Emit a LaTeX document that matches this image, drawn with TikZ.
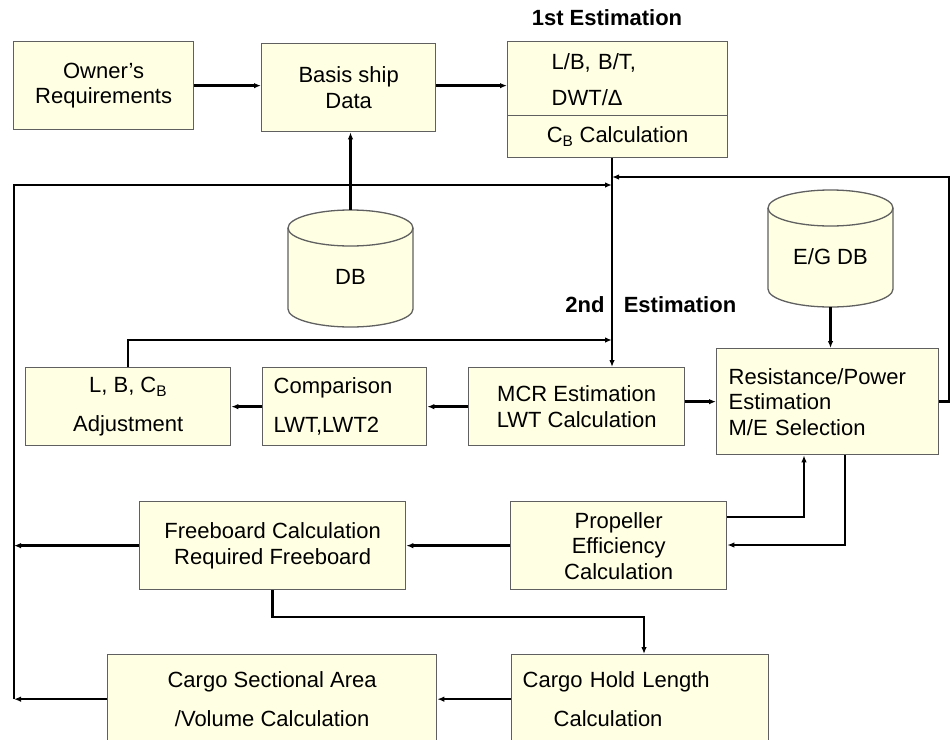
\documentclass[tikz,border=0pt]{standalone}
\usepackage{fontspec}
\setmainfont{Liberation Sans}
\usetikzlibrary{arrows.meta}
\definecolor{boxfill}{RGB}{255,255,228}
\definecolor{boxline}{RGB}{96,96,96}
\begin{document}
\begin{tikzpicture}[x=1pt,y=-1pt,
  every node/.style={font=\fontsize{22}{25.5}\selectfont, inner sep=0pt},
  box/.style={draw=boxline, line width=1.3pt, fill=boxfill, anchor=north west, align=center},
  leftbox/.style={box, align=left},
  cylpart/.style={draw=boxline, line width=1.3pt, fill=boxfill},
  arr/.style={line width=2.6pt, -{Latex[length=7pt,width=5.5pt]}},
  heading/.style={font=\fontsize{22}{25.5}\selectfont\bfseries}]
\clip (0,0) rectangle (952,739);
\useasboundingbox (0,0) rectangle (952,739);

% rails and junction points of the feedback loops
\coordinate (spine) at (612,0);
\coordinate (lrail) at (14,0);
\coordinate (rrail) at (949,0);
\coordinate (topL) at (14,185);
\coordinate (topR) at (949,177);
\coordinate (midL) at (127,340);
\coordinate (pu) at (804,517);
\coordinate (pd) at (845,545);
\coordinate (fbturn) at (644,617);

% process boxes
\node[box, minimum width=180pt, minimum height=88pt] (own) at (13,41) {Owner’s\\Requirements};
\node[box, minimum width=174pt, minimum height=88pt] (basis) at (261,43) {Basis ship\\Data};
\node[leftbox, minimum width=220pt, minimum height=74pt, text width=132pt] (est1a) at (507,41) {\rule{0pt}{18pt}L/B, B/T,\\[11pt]DWT/Δ};
\node[box, minimum width=220pt, minimum height=42pt] (est1b) at (507,115) {C\textsubscript{B} Calculation};
\node[box, minimum width=205pt, minimum height=78pt] (adj) at (25,367) {L, B, C\textsubscript{B}\\[13pt]Adjustment};
\node[leftbox, minimum width=164pt, minimum height=78pt, text width=142pt] (comp) at (262,367) {Comparison\\[13pt]LWT,LWT2};
\node[box, minimum width=216pt, minimum height=78pt] (mcr) at (468,367) {MCR Estimation\\LWT Calculation};
\node[leftbox, minimum width=222pt, minimum height=106pt, text width=198pt] (res) at (716,348) {Resistance/Power\\Estimation\\M/E Selection};
\node[box, minimum width=266pt, minimum height=88pt] (fb) at (139,501) {Freeboard Calculation\\Required Freeboard};
\node[box, minimum width=216pt, minimum height=88pt] (prop) at (510,501) {Propeller\\Efficiency\\Calculation};
\node[box, minimum width=329pt, minimum height=89pt] (cs) at (107,654) {Cargo Sectional Area\\[13pt]/Volume Calculation};
\node[leftbox, minimum width=257pt, minimum height=89pt, text width=235pt] (ch) at (511,654) {Cargo Hold Length\\[13pt]\hspace*{31pt}Calculation};

% databases
\filldraw[cylpart] (288,228) -- (288,309) arc[start angle=180,end angle=0,x radius=62.5,y radius=18] -- (413,228);
\filldraw[cylpart] (350.5,228) ellipse[x radius=62.5,y radius=18];
\node[minimum width=125pt, minimum height=117pt] (db) at (350.5,268.5) {};
\node (dbtxt) at (350.5,277) {DB};

\filldraw[cylpart] (768,208) -- (768,289) arc[start angle=180,end angle=0,x radius=62.5,y radius=18] -- (893,208);
\filldraw[cylpart] (830.5,208) ellipse[x radius=62.5,y radius=18];
\node[minimum width=125pt, minimum height=117pt] (egdb) at (830.5,248.5) {};
\node (egtxt) at (830.5,257) {E/G DB};

% stage headings
\node[heading] (h1) at (607,18) {1st Estimation};
\node[heading] (h2a) at (585,305) {2nd};
\node[heading] (h2b) at (680,305) {Estimation};

% main flow
\draw[arr] (own.east) -- (own.east -| basis.west);
\draw[arr] (own.east -| basis.east) -- (own.east -| est1a.west);
\draw[arr] (db.north) -- (db.north |- basis.south);
\draw[arr] (est1b.south -| spine) -- (mcr.north -| spine);
\draw[arr] (mcr.west) -- (comp.east);
\draw[arr] (comp.west) -- (adj.east);
\draw[arr] (mcr.east |- res.west) -- (res.west);
\draw[arr] (egdb.south) -- (egdb.south |- res.north);
\draw[arr] (prop.east |- pu) -- (pu) -- (pu |- res.south);
\draw[arr] (pd |- res.south) -- (pd) -- (pd -| prop.east);
\draw[arr] (prop.west) -- (fb.east);
\draw[arr] (fb.south) -- (fb.south |- fbturn) -- (fbturn) -- (fbturn |- ch.north);
\draw[arr] (ch.west) -- (cs.east);

% feedback loops
\draw[arr] (fb.west) -- (fb.west -| lrail);
\draw[arr] (cs.west) -- (cs.west -| lrail);
\draw[arr] (cs.west -| lrail) -- (topL) -- (topL -| spine);
\draw[arr] (res.east) -- (res.east -| rrail) -- (topR) -- (topR -| spine);
\draw[arr] (adj.north) -- (adj.north |- midL) -- (midL -| spine);
\end{tikzpicture}
\end{document}
